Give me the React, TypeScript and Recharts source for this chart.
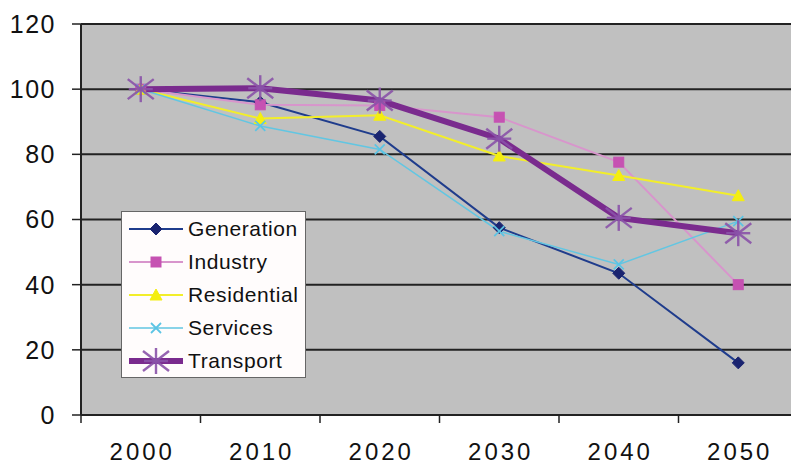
import React from 'react';
import { LineChart, Line, XAxis, YAxis, CartesianGrid, Legend } from 'recharts';

const years = [2000, 2010, 2020, 2030, 2040, 2050];
const generation = [100, 96, 85.5, 57.5, 43.5, 16];
const industry = [100, 95.2, 95, 91.4, 77.6, 40];
const residential = [100, 91, 92, 79.5, 73.5, 67.3];
const services = [100, 88.7, 81.5, 56.4, 46.2, 59.5];
const transport = [100, 100.3, 96.5, 84.8, 60.5, 55.8];

const xTicks = [1995, 2000, 2005, 2010, 2015, 2020, 2025, 2030, 2035, 2040, 2045, 2050, 2055];
const yTicks = [0, 20, 40, 60, 80, 100, 120];

const data = years.map((y, i) => ({
  year: y,
  Generation: generation[i],
  Industry: industry[i],
  Residential: residential[i],
  Services: services[i],
  Transport: transport[i],
}));

type Shape = 'diamond' | 'square' | 'triangle' | 'x' | 'star';

const series: { key: string; line: string; marker: string; width: number; shape: Shape }[] = [
  { key: 'Generation', line: '#1f3c8c', marker: '#1a2470', width: 2, shape: 'diamond' },
  { key: 'Industry', line: '#d895cc', marker: '#c652b2', width: 2, shape: 'square' },
  { key: 'Residential', line: '#f2ee2a', marker: '#f4ee10', width: 2, shape: 'triangle' },
  { key: 'Services', line: '#62c6e2', marker: '#5cc4e4', width: 1.5, shape: 'x' },
  { key: 'Transport', line: '#7a2b8e', marker: '#8a52a8', width: 6, shape: 'star' },
];

const FONT = '"Liberation Sans", Arial, sans-serif';

function Marker({ cx, cy, shape, color }: { cx: number; cy: number; shape: Shape; color: string }) {
  if (cx == null || cy == null) return null;
  switch (shape) {
    case 'diamond':
      return <polygon points={`${cx},${cy - 6} ${cx + 6},${cy} ${cx},${cy + 6} ${cx - 6},${cy}`} fill={color} stroke={color} strokeWidth={1} />;
    case 'square':
      return <rect x={cx - 5} y={cy - 5} width={10} height={10} fill={color} stroke={color} strokeWidth={1} />;
    case 'triangle':
      return <polygon points={`${cx},${cy - 6} ${cx + 6},${cy + 5} ${cx - 6},${cy + 5}`} fill={color} stroke={color} strokeWidth={1} />;
    case 'x':
      return (
        <g stroke={color} strokeWidth={1.8}>
          <line x1={cx - 5} y1={cy - 5} x2={cx + 5} y2={cy + 5} />
          <line x1={cx - 5} y1={cy + 5} x2={cx + 5} y2={cy - 5} />
        </g>
      );
    case 'star':
      return (
        <g stroke={color} strokeWidth={2.4} strokeOpacity={0.9}>
          <line x1={cx - 13} y1={cy - 10} x2={cx + 13} y2={cy + 10} />
          <line x1={cx - 13} y1={cy + 10} x2={cx + 13} y2={cy - 10} />
          <line x1={cx} y1={cy - 13} x2={cx} y2={cy + 13} />
          <line x1={cx - 12} y1={cy} x2={cx + 12} y2={cy} />
        </g>
      );
  }
  return null;
}

function XTick(props: any) {
  const { x, y, payload } = props;
  const v = payload.value as number;
  if (v % 10 === 0) {
    return (
      <text x={x + 1.5} y={y + 28} dy="0.71em" textAnchor="middle" fill="#111"
        style={{ fontFamily: FONT, fontSize: 24, letterSpacing: 3 }}>
        {v}
      </text>
    );
  }
  return <line x1={x} x2={x} y1={y} y2={y + 8} stroke="#222" strokeWidth={1.5} />;
}

function LegendBox() {
  return (
    <div style={{
      width: 185, height: 167, boxSizing: 'border-box', border: '1px solid #666',
      background: '#fffcfc', fontFamily: FONT,
    }}>
      {series.map((s) => (
        <div key={s.key} style={{ height: 33, display: 'flex', alignItems: 'center' }}>
          <svg width={64} height={30} style={{ display: 'block', flex: 'none' }}>
            <line x1={7} x2={61} y1={15} y2={15} stroke={s.line} strokeWidth={s.width} />
            <Marker cx={34} cy={15} shape={s.shape} color={s.marker} />
          </svg>
          <span style={{ fontSize: 21, color: '#111', letterSpacing: 0.6, marginLeft: 2, lineHeight: '33px' }}>{s.key}</span>
        </div>
      ))}
    </div>
  );
}

export default function App() {
  return (
    <div style={{ position: 'absolute', left: 0, top: 0, width: 791, height: 465, overflow: 'hidden', background: '#fff' }}>
      <LineChart width={798} height={465} data={data} margin={{ top: 24, right: 0, bottom: 0, left: 0 }}>
        <CartesianGrid vertical={false} horizontal stroke="#222" strokeWidth={2} fill="#c0c0c0" />
        <XAxis
          dataKey="year"
          type="number"
          domain={[1995, 2055]}
          ticks={xTicks}
          interval={0}
          tickLine={false}
          tickSize={0}
          tickMargin={0}
          height={50}
          tick={<XTick />}
          axisLine={{ stroke: '#222', strokeWidth: 2 }}
          allowDataOverflow
        />
        <YAxis
          type="number"
          domain={[0, 120]}
          ticks={yTicks}
          interval={0}
          width={81}
          tickSize={9}
          tickMargin={16}
          axisLine={{ stroke: '#222', strokeWidth: 2 }}
          tickLine={{ stroke: '#222', strokeWidth: 1.5 }}
          tick={{ fill: '#111', fontSize: 25, fontFamily: FONT, letterSpacing: 1.5 }}
        />
        <Legend
          layout="vertical"
          align="center"
          verticalAlign="middle"
          content={() => <LegendBox />}
          wrapperStyle={{ left: 121, top: 211, width: 185, height: 167 }}
        />
        {series.map((s) => (
          <Line
            key={s.key}
            dataKey={s.key}
            stroke={s.line}
            strokeWidth={s.width}
            isAnimationActive={false}
            dot={(p: any) => <Marker key={`${s.key}-${p.index}`} cx={p.cx} cy={p.cy} shape={s.shape} color={s.marker} />}
            activeDot={false}
          />
        ))}
      </LineChart>
    </div>
  );
}
